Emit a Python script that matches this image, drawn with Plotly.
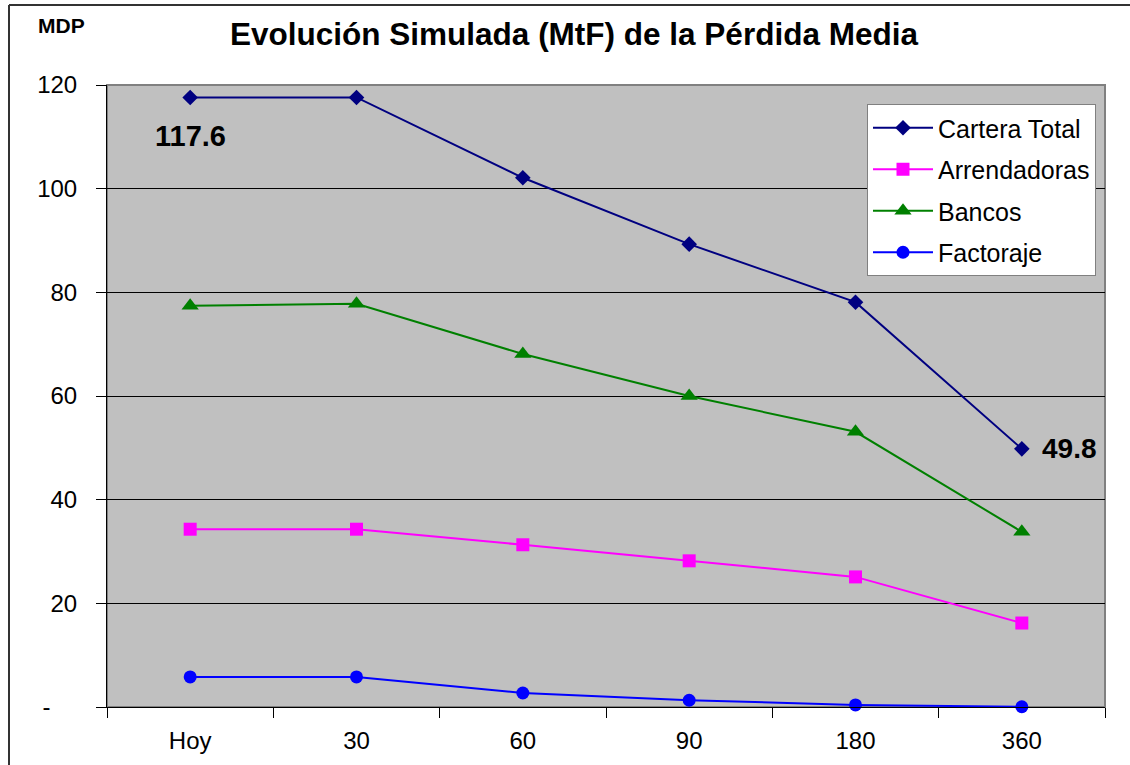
import plotly.graph_objects as go

categories = ["Hoy", "30", "60", "90", "180", "360"]
cartera_total = [117.6, 117.6, 102.1, 89.3, 78.1, 49.8]
arrendadoras = [34.3, 34.3, 31.3, 28.2, 25.1, 16.2]
bancos = [77.4, 77.8, 68.1, 60.0, 53.1, 33.8]
factoraje = [5.8, 5.8, 2.7, 1.3, 0.4, 0.05]
y_ticks = [0, 20, 40, 60, 80, 100, 120]
y_tick_labels = ["-\u00a0\u00a0\u00a0\u00a0", "20", "40", "60", "80", "100", "120"]

FONT = "Liberation Sans, Arial, sans-serif"
L, R, T, B = 107, 1105, 85, 707
W, H = 1130, 765

def px(x):
    return (x - L) / (R - L)

def py(y):
    return (B - y) / (B - T)

fig = go.Figure()
series = [
    ("Cartera Total", cartera_total, "#000080", "diamond", 12),
    ("Arrendadoras", arrendadoras, "#FF00FF", "square", 13),
    ("Bancos", bancos, "#008000", "triangle-up", 15),
    ("Factoraje", factoraje, "#0000FF", "circle", 13),
]
for i, (name, vals, color, sym, size) in enumerate(series):
    fig.add_trace(go.Scatter(
        x=categories, y=vals, name=name, mode="lines+markers",
        legendgroup="g%d" % i,
        line=dict(color=color, width=2),
        marker=dict(color=color, symbol=sym, size=size, line=dict(width=0)),
        cliponaxis=False,
    ))

first_idx = 0
last_idx = len(categories) - 1

fig.update_layout(
    width=W, height=H,
    margin=dict(l=L, r=W - R, t=T, b=H - B, autoexpand=False),
    paper_bgcolor="white",
    plot_bgcolor="#C0C0C0",
    font=dict(family=FONT, size=24, color="black"),
    title=dict(text="<b>Evolución Simulada (MtF) de la Pérdida Media</b>",
               xref="container", x=574 / W, xanchor="center",
               yref="container", y=1 - 34 / H, yanchor="middle",
               font=dict(size=31.5, family=FONT)),
    showlegend=True,
    legend=dict(x=px(867), y=py(104), xanchor="left", yanchor="top",
                bgcolor="white", bordercolor="#808080", borderwidth=1,
                font=dict(size=25, family=FONT), itemwidth=60,
                tracegroupgap=6),
    xaxis=dict(type="category", range=[-0.5, 5.5], showgrid=False,
               ticks="outside", tickson="boundaries", ticklen=10,
               tickcolor="black", showline=True, linecolor="black",
               linewidth=1, tickfont=dict(size=24), ticklabelstandoff=12),
    yaxis=dict(range=[0, 120], tickvals=y_ticks, ticktext=y_tick_labels,
               showgrid=True, gridcolor="black", gridwidth=1,
               ticks="outside", ticklen=10, tickcolor="black",
               showline=True, linecolor="black", linewidth=1,
               zeroline=False, tickfont=dict(size=24), ticklabelstandoff=14),
    shapes=[
        dict(type="rect", xref="paper", yref="paper", x0=0, x1=1, y0=0, y1=1,
             line=dict(color="#808080", width=2), layer="below"),
        dict(type="line", xref="paper", yref="paper", x0=px(9), x1=px(1135),
             y0=py(5), y1=py(5), line=dict(color="#333333", width=2)),
        dict(type="line", xref="paper", yref="paper", x0=px(9), x1=px(9),
             y0=py(5), y1=py(770), line=dict(color="#333333", width=2)),
    ],
    annotations=[
        dict(text="<b>MDP</b>", xref="paper", yref="paper", x=px(61),
             y=py(26), xanchor="center", yanchor="middle", showarrow=False,
             font=dict(size=21)),
        dict(text="<b>%.1f</b>" % cartera_total[first_idx], x=first_idx,
             y=cartera_total[first_idx],
             xref="x", yref="y", showarrow=False, yshift=-39,
             font=dict(size=29)),
        dict(text="<b>%.1f</b>" % cartera_total[last_idx], x=last_idx,
             y=cartera_total[last_idx],
             xref="x", yref="y", showarrow=False, xshift=48, xanchor="center",
             font=dict(size=28)),
    ],
)

fig.write_html("out.html", config={"displayModeBar": False},
               post_script="document.body.style.margin='0px';")
